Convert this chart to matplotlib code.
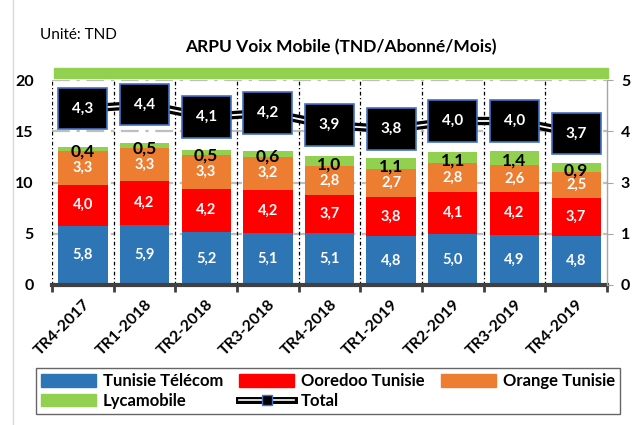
import matplotlib
matplotlib.use("Agg")
import matplotlib.pyplot as plt
from matplotlib.lines import Line2D
from matplotlib.patches import Patch, Rectangle
import numpy as np

plt.rcParams['font.family'] = ['Lato', 'DejaVu Sans']

quarters = ["TR4-2017", "TR1-2018", "TR2-2018", "TR3-2018", "TR4-2018",
            "TR1-2019", "TR2-2019", "TR3-2019", "TR4-2019"]
tunisie_telecom = [5.8, 5.9, 5.2, 5.1, 5.1, 4.8, 5.0, 4.9, 4.8]
ooredoo = [4.0, 4.2, 4.2, 4.2, 3.7, 3.8, 4.1, 4.2, 3.7]
orange = [3.3, 3.3, 3.3, 3.2, 2.8, 2.7, 2.8, 2.6, 2.5]
lycamobile = [0.4, 0.5, 0.5, 0.6, 1.0, 1.1, 1.1, 1.4, 0.9]
total = [4.3, 4.4, 4.1, 4.2, 3.9, 3.8, 4.0, 4.0, 3.7]

# name, values, colour, label colour, label size, label shift
series = [
    ("Tunisie Télécom", tunisie_telecom, "#2E75B6", "white", 10.5, 0.0),
    ("Ooredoo Tunisie", ooredoo, "#FF0000", "white", 10.5, 0.0),
    ("Orange Tunisie", orange, "#ED7D31", "white", 10.5, 0.0),
    ("Lycamobile", lycamobile, "#92D050", "black", 12.5, -0.3),
]

fig = plt.figure(figsize=(6.35, 4.25), dpi=100)
ax = fig.add_axes([52 / 635, 1 - 285 / 425, 555 / 635, 205 / 425])
x = np.arange(len(quarters))

# grid behind the bars
for yv in [5, 10, 15, 20]:
    ax.axhline(yv, color="#BFBFBF", lw=1.6, ls=(0, (8, 3, 1.5, 3)), zorder=0)
for xv in np.arange(-0.5, 8.0, 1.0):
    ax.plot([xv, xv], [0, 20], color="black", lw=0.9, ls=(0, (3, 2, 1, 2)), zorder=0)

bottom = np.zeros(len(quarters))
for name, vals, col, tcol, fs, shift in series:
    vals = np.array(vals)
    ax.bar(x, vals, 0.8, bottom=bottom, color=col, zorder=2)
    for xi, b, v in zip(x, bottom, vals):
        ax.text(xi, b + v / 2 + shift, f"{v:.1f}".replace(".", ","), ha="center",
                va="center", color=tcol, fontsize=fs, fontweight="bold", zorder=3)
    bottom += vals

ax.set_xlim(-0.5, 8.5)
ax.set_ylim(0, 20)
ax.set_yticks([0, 5, 10, 15, 20])
ax.tick_params(axis="y", length=0, pad=13, labelsize=11.5)
for lab in ax.get_yticklabels():
    lab.set_fontweight("bold")
ax.set_xticks(x)
ax.set_xticklabels(quarters, rotation=45, ha="right", rotation_mode="anchor",
                   fontsize=11.5, fontweight="bold")
ax.tick_params(axis="x", which="major", length=0, pad=9)
ax.set_xticks(np.arange(-0.5, 9.0, 1.0), minor=True)
ax.tick_params(axis="x", which="minor", length=5, width=2, color="#404040")
for s in ["left", "top", "right"]:
    ax.spines[s].set_visible(False)
ax.spines["bottom"].set_color("#404040")
ax.spines["bottom"].set_linewidth(3)

# green band on top
ax.add_patch(Rectangle((0.003, 1.012), 0.998, 0.045, transform=ax.transAxes,
                       color="#92D050", clip_on=False, zorder=1))

ax2 = ax.twinx()
ax2.set_ylim(0, 5)
ax2.set_yticks([0, 1.25, 2.5, 3.75, 5])
ax2.set_yticklabels(["0", "1", "3", "4", "5"], fontsize=11.5, fontweight="bold")
ax2.tick_params(axis="y", length=4, color="#A6A6A6", pad=6)
for s in ["left", "top", "bottom"]:
    ax2.spines[s].set_visible(False)
ax2.spines["right"].set_color("#A6A6A6")
ax2.spines["right"].set_linewidth(1)

ax2.plot(x, total, color="black", lw=6, solid_capstyle="round", zorder=4)
ax2.plot(x, total, color="white", lw=1.3, zorder=5)
for xi, v in zip(x, total):
    ax2.text(xi, v, f"{v:.1f}".replace(".", ","), ha="center", va="center",
             color="white", fontsize=11, fontweight="bold", zorder=6,
             bbox=dict(boxstyle="square,pad=0.9", fc="black", ec="#4472C4", lw=1.2))

fig.text(40 / 635, 1 - 35 / 425, "Unité: TND", fontsize=11, va="center")
fig.text(341 / 635, 1 - 47 / 425, "ARPU Voix Mobile (TND/Abonné/Mois)", fontsize=12.5,
         fontweight="bold", ha="center", va="center")

fig.add_artist(Line2D([13 / 635, 13 / 635], [0, 1], color="#D9D9D9", lw=1))

# legend filled column by column -> reorder so rows read like the reference
patches = {s[0]: Patch(color=s[2]) for s in series}
total_handle = (Line2D([], [], color="black", lw=5),
                Line2D([], [], color="white", lw=1.2),
                Line2D([], [], ls="none", marker="s", ms=7, mfc="black", mec="#4472C4"))
order = ["Tunisie Télécom", "Lycamobile", "Ooredoo Tunisie", "Total", "Orange Tunisie"]
handles = [total_handle if n == "Total" else patches[n] for n in order]
leg = fig.legend(handles, order, ncol=3, loc="lower left",
                 bbox_to_anchor=(28 / 635, 3 / 425, 600 / 635, 50 / 425), mode="expand",
                 prop={"weight": "bold", "size": 12}, frameon=True,
                 fancybox=False, edgecolor="#404040", handlelength=3.3, handleheight=0.8,
                 labelspacing=0.2, borderpad=0.3, handletextpad=0.4)
leg.get_frame().set_linewidth(1)

fig.savefig("out.png", dpi=100)
